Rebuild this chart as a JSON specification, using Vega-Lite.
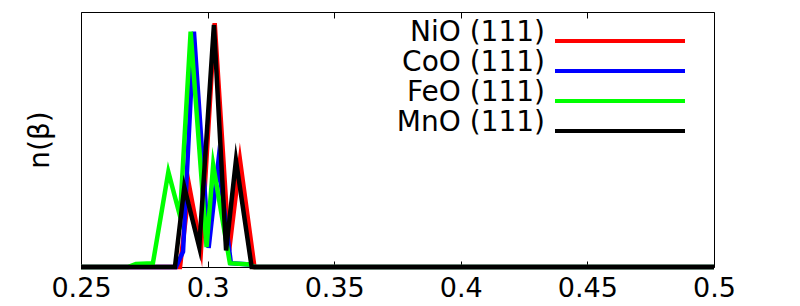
{
  "$schema": "https://vega.github.io/schema/vega-lite/v6.json",
  "width": 633,
  "height": 255,
  "autosize": "none",
  "padding": {"left": 81, "top": 12, "right": 86, "bottom": 39},
  "background": "white",
  "config": {
    "view": {"stroke": "black", "strokeWidth": 1},
    "font": "DejaVu Sans"
  },
  "data": {
    "values": [
      {"s": "NiO (111)", "b": 0.25, "n": 0},
      {"s": "NiO (111)", "b": 0.2891, "n": 0},
      {"s": "NiO (111)", "b": 0.2928, "n": 0.314},
      {"s": "NiO (111)", "b": 0.2974, "n": 0.07},
      {"s": "NiO (111)", "b": 0.3028, "n": 0.956},
      {"s": "NiO (111)", "b": 0.3085, "n": 0.065},
      {"s": "NiO (111)", "b": 0.3128, "n": 0.419},
      {"s": "NiO (111)", "b": 0.3185, "n": 0},
      {"s": "NiO (111)", "b": 0.5, "n": 0},
      {"s": "CoO (111)", "b": 0.25, "n": 0},
      {"s": "CoO (111)", "b": 0.2875, "n": 0},
      {"s": "CoO (111)", "b": 0.2903, "n": 0.06},
      {"s": "CoO (111)", "b": 0.2946, "n": 0.923},
      {"s": "CoO (111)", "b": 0.3004, "n": 0.075},
      {"s": "CoO (111)", "b": 0.3042, "n": 0.41},
      {"s": "CoO (111)", "b": 0.3092, "n": 0.015},
      {"s": "CoO (111)", "b": 0.3167, "n": 0.01},
      {"s": "CoO (111)", "b": 0.3185, "n": 0},
      {"s": "CoO (111)", "b": 0.5, "n": 0},
      {"s": "FeO (111)", "b": 0.25, "n": 0},
      {"s": "FeO (111)", "b": 0.2685, "n": 0},
      {"s": "FeO (111)", "b": 0.2717, "n": 0.012},
      {"s": "FeO (111)", "b": 0.2784, "n": 0.015},
      {"s": "FeO (111)", "b": 0.2845, "n": 0.373},
      {"s": "FeO (111)", "b": 0.2891, "n": 0.2},
      {"s": "FeO (111)", "b": 0.2933, "n": 0.923},
      {"s": "FeO (111)", "b": 0.2996, "n": 0.078},
      {"s": "FeO (111)", "b": 0.3022, "n": 0.4},
      {"s": "FeO (111)", "b": 0.3088, "n": 0.015},
      {"s": "FeO (111)", "b": 0.3167, "n": 0.01},
      {"s": "FeO (111)", "b": 0.3185, "n": 0},
      {"s": "FeO (111)", "b": 0.5, "n": 0},
      {"s": "MnO (111)", "b": 0.25, "n": 0},
      {"s": "MnO (111)", "b": 0.2871, "n": 0},
      {"s": "MnO (111)", "b": 0.2908, "n": 0.314},
      {"s": "MnO (111)", "b": 0.2967, "n": 0.078},
      {"s": "MnO (111)", "b": 0.3025, "n": 0.949},
      {"s": "MnO (111)", "b": 0.3073, "n": 0.065},
      {"s": "MnO (111)", "b": 0.3112, "n": 0.419},
      {"s": "MnO (111)", "b": 0.3174, "n": 0},
      {"s": "MnO (111)", "b": 0.5, "n": 0}
    ]
  },
  "layer": [
    {
      "mark": {"type": "rule", "opacity": 0},
      "encoding": {
        "x": {
          "field": "b", "type": "quantitative",
          "scale": {"domain": [0.25, 0.5], "nice": false, "zero": false},
          "axis": {
            "orient": "top", "values": [0.25, 0.3, 0.35, 0.4, 0.45, 0.5],
            "labels": false, "domain": false, "grid": false, "title": null,
            "tickSize": -6, "tickColor": "black", "tickWidth": 1
          }
        }
      }
    },
    {
      "mark": {"type": "line", "strokeWidth": 4.5, "strokeJoin": "miter", "strokeMiterLimit": 10},
      "encoding": {
        "x": {
          "field": "b", "type": "quantitative",
          "scale": {"domain": [0.25, 0.5], "nice": false, "zero": false},
          "axis": {
            "orient": "bottom", "values": [0.25, 0.3, 0.35, 0.4, 0.45, 0.5],
            "format": "~g", "domain": false, "grid": false, "title": null,
            "tickSize": -6, "tickColor": "black", "tickWidth": 1,
            "labelFont": "DejaVu Sans", "labelFontSize": 27, "labelColor": "black",
            "labelPadding": 14, "labelFlush": false
          }
        },
        "y": {
          "field": "n", "type": "quantitative",
          "scale": {"domain": [0, 1], "nice": false},
          "axis": {
            "title": "n(β)", "ticks": false, "labels": false, "domain": false, "grid": false,
            "titleFont": "DejaVu Sans", "titleFontSize": 28, "titleFontWeight": "normal",
            "titleColor": "black", "titlePadding": 27
          }
        },
        "color": {
          "field": "s", "type": "nominal",
          "scale": {
            "domain": ["NiO (111)", "CoO (111)", "FeO (111)", "MnO (111)"],
            "range": ["#ff0000", "#0000ff", "#00ff00", "#000000"]
          },
          "legend": {
            "orient": "none", "legendX": 525, "legendY": 15, "title": null,
            "padding": 0, "rowPadding": 0,
            "symbolType": "M-13,0H13", "symbolSize": 100, "symbolStrokeWidth": 4,
            "labelAlign": "right", "labelOffset": -89, "labelBaseline": "alphabetic",
            "labelFont": "DejaVu Sans", "labelFontSize": 28, "labelColor": "black",
            "labelLimit": 400
          }
        }
      }
    }
  ],
  "resolve": {"axis": {"x": "independent"}}
}
